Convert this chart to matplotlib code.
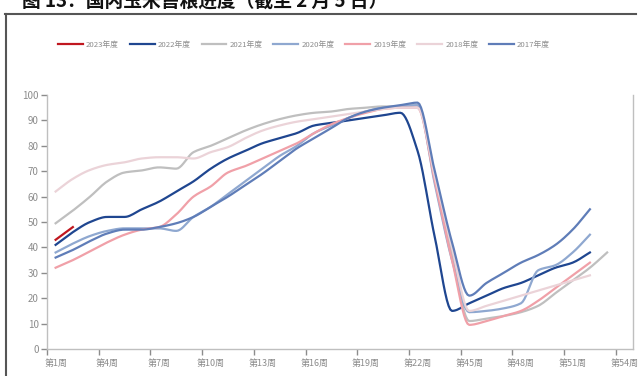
import numpy as np
import matplotlib
matplotlib.use("Agg")
import matplotlib.pyplot as plt
from matplotlib.lines import Line2D

plt.rcParams['font.family'] = ['Noto Sans CJK SC', 'DejaVu Sans']

nan = np.nan
weeks = list(range(1, 23)) + list(range(43, 55))
labels = ['第%d周' % w for w in weeks]

y2023 = [43, 48] + [nan] * 32
y2022 = [41, 46, 50, 52, 52, 55, 58, 62, 66, 71, 75, 78, 81, 83, 85, 88, 89, 90, 91, 92, 93, 78,
         44, 15, 18, 21, 24, 26, 29, 32, 34, 38, nan, nan]
y2021 = [49.5, 54.5, 60, 66, 69.5, 70.3, 71.5, 71, 77.5, 80, 83, 86, 88.5, 90.5, 92, 93, 93.5, 94.5, 95, 95.5, 95.5, 96,
         67, 37, 11, 12, 13, 14.5, 17, 22, 27, 32, 38, nan]
y2020 = [38, 41.5, 44.5, 46.5, 47.5, 47.5, 47.5, 46.5, 52, 56, 61, 66, 71, 76, 80, 85, 88, 91, 93.5, 95, 95.5, 96,
         65, 35, 14.5, 15, 16, 18, 31, 33, 38, 45, nan, nan]
y2019 = [32, 35, 38.5, 42, 45, 47, 48, 53, 60, 64, 69.5, 72, 75, 78, 81, 85, 88.5, 91, 93, 94.5, 95, 95,
         66, 35, 9.5, 11, 13, 15, 19, 24, 29, 34, nan, nan]
y2018 = [62, 67, 70.5, 72.5, 73.5, 75, 75.5, 75.5, 75, 77.5, 79.5, 83, 86, 88, 89.5, 90.5, 91.5, 92.5, 93.5, 94.5, 95, 95,
         68, 40, 15, 17, 19, 21, 23, 25, 27, 29, nan, nan]
y2017 = [36, 39, 42.5, 45.5, 47, 47, 48, 49.5, 52, 56, 60, 64.5, 69, 74, 79, 83, 87, 91, 93.5, 95, 96, 97,
         70, 42, 21, 26, 30, 34, 37, 41, 47, 55, nan, nan]

series = [
    ('2023年度', y2023, '#C0171F'),
    ('2022年度', y2022, '#1F4690'),
    ('2021年度', y2021, '#BFBFBF'),
    ('2020年度', y2020, '#8FA8D0'),
    ('2019年度', y2019, '#F0A0A8'),
    ('2018年度', y2018, '#EBD3D8'),
    ('2017年度', y2017, '#5F7DB8'),
]


def smooth(xs, ys, n=10):
    # monotone cubic (Fritsch-Carlson) so the curve never overshoots the points
    xs = np.asarray(xs, float)
    ys = np.asarray(ys, float)
    if len(xs) < 3:
        return xs, ys
    h = np.diff(xs)
    d = np.diff(ys) / h
    m = np.zeros_like(ys)
    m[0], m[-1] = d[0], d[-1]
    for k in range(1, len(xs) - 1):
        if d[k - 1] * d[k] > 0:
            w1 = 2 * h[k] + h[k - 1]
            w2 = h[k] + 2 * h[k - 1]
            m[k] = (w1 + w2) / (w1 / d[k - 1] + w2 / d[k])
    px, py = [], []
    for k in range(len(xs) - 1):
        t = np.linspace(0, 1, n, endpoint=False)
        h00 = 2 * t**3 - 3 * t**2 + 1
        h10 = t**3 - 2 * t**2 + t
        h01 = -2 * t**3 + 3 * t**2
        h11 = t**3 - t**2
        px.append(xs[k] + t * h[k])
        py.append(h00 * ys[k] + h10 * h[k] * m[k] + h01 * ys[k + 1] + h11 * h[k] * m[k + 1])
    px.append([xs[-1]])
    py.append([ys[-1]])
    return np.concatenate(px), np.concatenate(py)


fig = plt.figure(figsize=(6.38, 3.76), dpi=100)
ax = fig.add_axes([47 / 638, 27 / 376, 586 / 638, 254 / 376])

x = np.arange(len(weeks))
for name, vals, col in series:
    v = np.array(vals, float)
    ok = ~np.isnan(v)
    sx, sy = smooth(x[ok], v[ok])
    ax.plot(sx, sy, color=col, lw=1.6, label=name, solid_joinstyle='round')

ax.set_xlim(-0.5, len(weeks) - 0.5)
ax.set_ylim(0, 100)
ax.set_yticks(range(0, 101, 10))

# ticks at band boundaries, labels at band centres
ax.set_xticks(np.arange(-0.5, len(weeks) - 0.5, 3))
ax.set_xticklabels([])
ax.set_xticks(np.arange(0, len(weeks), 3), minor=True)
ax.set_xticklabels(labels[::3], minor=True)
ax.tick_params(axis='x', which='minor', length=0, pad=7, labelsize=6.5, labelcolor='#8C8C8C')
ax.tick_params(axis='x', which='major', length=4, width=1, color='#8C8C8C')
ax.tick_params(axis='y', length=4, width=1, color='#8C8C8C', labelsize=7, labelcolor='#8C8C8C', pad=2)

for s in ['left', 'bottom', 'right']:
    ax.spines[s].set_color('#BFBFBF')
    ax.spines[s].set_linewidth(1)
ax.spines['top'].set_visible(False)

fig.legend(loc='center', bbox_to_anchor=(304 / 638, 1 - 45 / 376), ncol=7, frameon=False,
           fontsize=5.6, handlelength=3.2, handletextpad=0.4, columnspacing=1.4,
           labelcolor='#8C8C8C')

# report frame and title
fig.add_artist(Line2D([5 / 638, 636 / 638], [1 - 14 / 376, 1 - 14 / 376], color='#555555', lw=1.5))
fig.add_artist(Line2D([5.5 / 638, 5.5 / 638], [1 - 14 / 376, 0], color='#555555', lw=1.5))
fig.text(22 / 638, 1 - 7 / 376, '图 13：国内玉米售粮进度（截至 2 月 5 日）', fontsize=13.5,
         fontweight='bold', color='#111111', va='baseline', ha='left')

fig.savefig('out.png', dpi=100)
